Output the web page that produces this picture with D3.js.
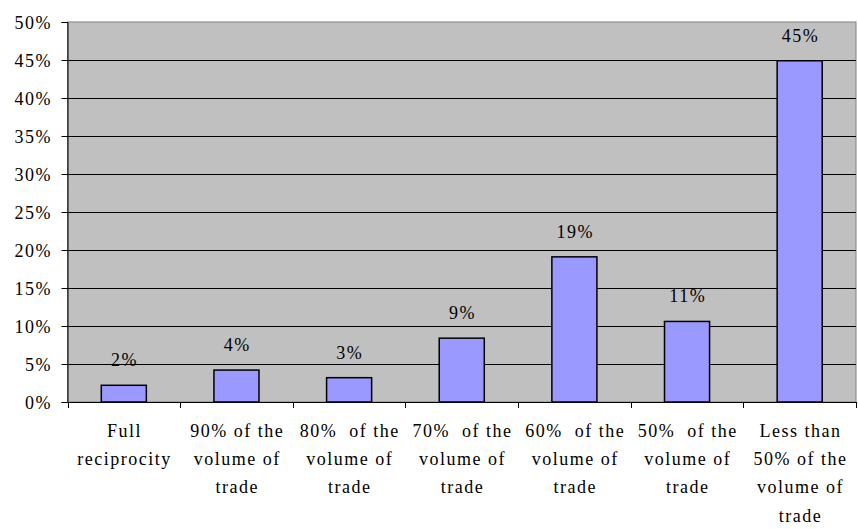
<!DOCTYPE html>
<html><head><meta charset="utf-8">
<script src="https://cdn.jsdelivr.net/npm/d3@7"></script>
<style>body{margin:0;background:#fff}svg{display:block}</style>
</head><body>
<svg id="c" width="858" height="529" font-family="Liberation Serif"></svg>
<script>
const categories = [
  ["Full","reciprocity"],
  ["90% of the","volume of","trade"],
  ["80%\u00A0 of the","volume of","trade"],
  ["70%\u00A0 of the","volume of","trade"],
  ["60%\u00A0 of the","volume of","trade"],
  ["50%\u00A0 of the","volume of","trade"],
  ["Less than","50% of the","volume of","trade"]
];
const values = [2.2, 4.2, 3.2, 8.4, 19.1, 10.6, 44.9];
const valueLabels = ["2%","4%","3%","9%","19%","11%","45%"];
const yTicks = [0,5,10,15,20,25,30,35,40,45,50];

const FONT = "Liberation Serif";
const svg = d3.select("#c");
const L = 67.5, R = 856, T = 22, B = 402;
const x = d3.scaleBand().domain(d3.range(categories.length)).range([L, R]).paddingInner(0.6).paddingOuter(0.3);
const xb = d3.scaleLinear().domain([0, categories.length]).range([L, R]);
const y = d3.scaleLinear().domain([0, 50]).range([B, T]);

// widen text slightly (reference text is loosely spaced)
function spread(sel, perChar) {
  sel.each(function() {
    const n = this.textContent.length;
    const len = this.getComputedTextLength();
    if (len > 0) d3.select(this).attr("textLength", len + perChar * (n - 1)).attr("lengthAdjust", "spacing");
  });
}

svg.append("rect").attr("x", L).attr("y", T).attr("width", R - L).attr("height", B - T)
  .attr("fill", "#C0C0C0").attr("stroke", "#808080").attr("stroke-width", 1);

svg.append("g").selectAll("line").data(yTicks.filter(d => d > 0 && d < 50)).join("line")
  .attr("x1", L).attr("x2", R).attr("y1", d => Math.round(y(d)) + 0.5).attr("y2", d => Math.round(y(d)) + 0.5)
  .attr("stroke", "#000").attr("stroke-width", 1);

// y axis
const ya = svg.append("g").attr("transform", `translate(${L},0)`)
  .call(d3.axisLeft(y).tickValues(yTicks).tickFormat(d => d + "%").tickSize(6).tickPadding(11));
ya.attr("font-family", FONT).attr("font-size", 18);
ya.select(".domain").attr("stroke", "#000");
ya.selectAll(".tick line").attr("stroke", "#000");
ya.selectAll("text").attr("fill", "#000").attr("dy", "0.34em").call(spread, 1.5);

// x axis line + ticks
svg.append("line").attr("x1", L).attr("x2", R).attr("y1", B + 0.5).attr("y2", B + 0.5).attr("stroke", "#000");
svg.append("g").selectAll("line").data(d3.range(categories.length + 1)).join("line")
  .attr("x1", d => Math.round(xb(d)) + 0.5).attr("x2", d => Math.round(xb(d)) + 0.5)
  .attr("y1", B).attr("y2", B + 6).attr("stroke", "#000");

// bars
svg.append("g").selectAll("rect").data(values).join("rect")
  .attr("x", (d, i) => x(i)).attr("width", x.bandwidth())
  .attr("y", d => y(d)).attr("height", d => B - y(d))
  .attr("fill", "#9999FF").attr("stroke", "#000").attr("stroke-width", 1.5);

// value labels
svg.append("g").selectAll("text").data(values).join("text")
  .attr("x", (d, i) => x(i) + x.bandwidth() / 2).attr("y", d => y(d) - 19)
  .attr("text-anchor", "middle").attr("font-family", FONT).attr("font-size", 18)
  .attr("fill", "#000")
  .text((d, i) => valueLabels[i])
  .call(spread, 1.5);

// category labels
const cl = svg.append("g").selectAll("text").data(categories).join("text")
  .attr("text-anchor", "middle").attr("font-family", FONT).attr("font-size", 18)
  .attr("fill", "#000");
cl.each(function(lines, i) {
  const cx = x(i) + x.bandwidth() / 2;
  d3.select(this).selectAll("tspan").data(lines).join("tspan")
    .attr("x", cx).attr("y", (d, j) => 437 + j * 28.2).text(d => d)
    .call(spread, 1.5);
});
</script>
</body></html>
